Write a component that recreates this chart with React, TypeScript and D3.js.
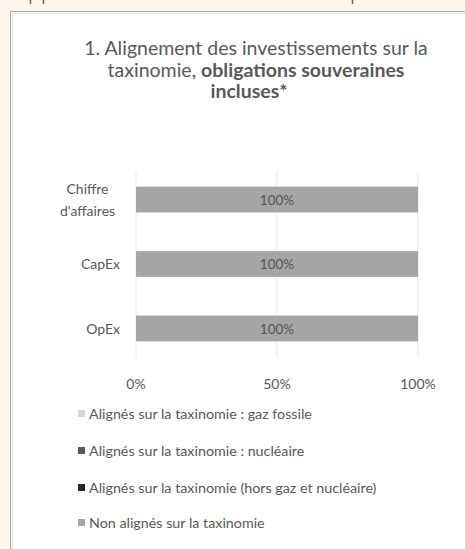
import React from "react";
import * as d3 from "d3";

const categories = ["Chiffre d'affaires", "CapEx", "OpEx"];
const categoryLines = [["Chiffre", "d'affaires"], ["CapEx"], ["OpEx"]];
const seriesNames = [
  "Alignés sur la taxinomie : gaz fossile",
  "Alignés sur la taxinomie : nucléaire",
  "Alignés sur la taxinomie (hors gaz et nucléaire)",
  "Non alignés sur la taxinomie",
];
const gazFossile = [0, 0, 0];
const nucleaire = [0, 0, 0];
const horsGazNucleaire = [0, 0, 0];
const nonAlignes = [100, 100, 100];
const seriesColors = ["#d9d9d9", "#595959", "#262626", "#a5a5a5"];
const xTicks = [0, 50, 100];

const W = 465;
const H = 549;
const FONT = "Lato, 'Open Sans', sans-serif";
const TXT = "#595959";

export default function App() {
  const rows = categories.map((c, i) => ({
    cat: c,
    s0: gazFossile[i],
    s1: nucleaire[i],
    s2: horsGazNucleaire[i],
    s3: nonAlignes[i],
  }));
  const keys = ["s0", "s1", "s2", "s3"];
  const stacked = d3.stack<any>().keys(keys)(rows);

  const x = d3.scaleLinear().domain([0, 100]).range([136, 418]);
  const y = d3
    .scaleBand<string>()
    .domain(categories)
    .range([167.25, 360.75])
    .paddingInner(0.6)
    .paddingOuter(0.3);

  const legendY = [414, 451, 488, 523];

  return (
    <svg
      width={W}
      height={H}
      style={{ position: "absolute", left: 0, top: 0, display: "block" }}
      fontFamily={FONT}
    >
      <rect x={0} y={0} width={W} height={H} fill="#fdf7ee" />
      {/* descender fragments of the page text above */}
      <g stroke="#666" strokeWidth={1.5}>
        <line x1={30.5} y1={0} x2={30.5} y2={4} />
        <line x1={43.5} y1={0} x2={43.5} y2={4} />
        <line x1={352.5} y1={0} x2={352.5} y2={4} />
      </g>
      <rect x={10.5} y={11.5} width={W} height={H} fill="#ffffff" stroke="#a8a8a8" strokeWidth={1} />
      <line x1={12.5} y1={13} x2={12.5} y2={H} stroke="#e2e2e2" />
      <line x1={12} y1={13.5} x2={W} y2={13.5} stroke="#ececec" />

      {/* title */}
      <g fill={TXT} fontSize={19.5} textAnchor="middle">
        <text x={256} y={55}>1. Alignement des investissements sur la</text>
        <text x={256} y={76.5}>
          taxinomie, <tspan fontWeight="bold">obligations souveraines</tspan>
        </text>
        <text x={249} y={98} fontWeight="bold">incluses*</text>
      </g>

      {/* gridlines */}
      {xTicks.map((t) => (
        <line
          key={t}
          x1={x(t)}
          x2={x(t)}
          y1={172}
          y2={357}
          stroke="#e8e8e8"
          strokeWidth={1}
        />
      ))}

      {/* bars */}
      {stacked.map((s, si) => (
        <g key={si} fill={seriesColors[si]}>
          {s.map((d: any, i: number) =>
            d[1] - d[0] > 0 ? (
              <rect
                key={i}
                x={x(d[0])}
                y={y(categories[i])}
                width={x(d[1]) - x(d[0])}
                height={y.bandwidth()}
              />
            ) : null
          )}
        </g>
      ))}

      {/* data labels */}
      {stacked.map((s, si) =>
        s.map((d: any, i: number) =>
          d[1] - d[0] > 0 ? (
            <text
              key={si + "-" + i}
              x={x((d[0] + d[1]) / 2)}
              y={(y(categories[i]) as number) + y.bandwidth() / 2 + 5}
              textAnchor="middle"
              fontSize={13.5}
              fill="#555555"
            >
              {`${Math.round(d[1] - d[0])}%`}
            </text>
          ) : null
        )
      )}

      {/* category labels */}
      {categories.map((c, i) => {
        const lines = categoryLines[i];
        const cy = (y(c) as number) + y.bandwidth() / 2;
        const lh = 22;
        const start = cy - ((lines.length - 1) * lh) / 2 + 5;
        return (
          <g key={c} fill={TXT} fontSize={14}>
            {lines.map((l, j) => (
              <text
                key={j}
                x={lines.length > 1 ? 87.5 : 120}
                y={start + j * lh}
                textAnchor={lines.length > 1 ? "middle" : "end"}
              >
                {l}
              </text>
            ))}
          </g>
        );
      })}

      {/* x axis labels */}
      {xTicks.map((t) => (
        <text
          key={t}
          x={x(t)}
          y={389}
          textAnchor="middle"
          fontSize={14}
          fill={TXT}
        >
          {t}%
        </text>
      ))}

      {/* legend */}
      {seriesNames.map((n, i) => (
        <g key={n}>
          <rect x={78} y={legendY[i] - 4} width={7} height={7} fill={seriesColors[i]} />
          <text x={89} y={legendY[i] + 5} fontSize={14.3} fill={TXT}>
            {n}
          </text>
        </g>
      ))}
    </svg>
  );
}
